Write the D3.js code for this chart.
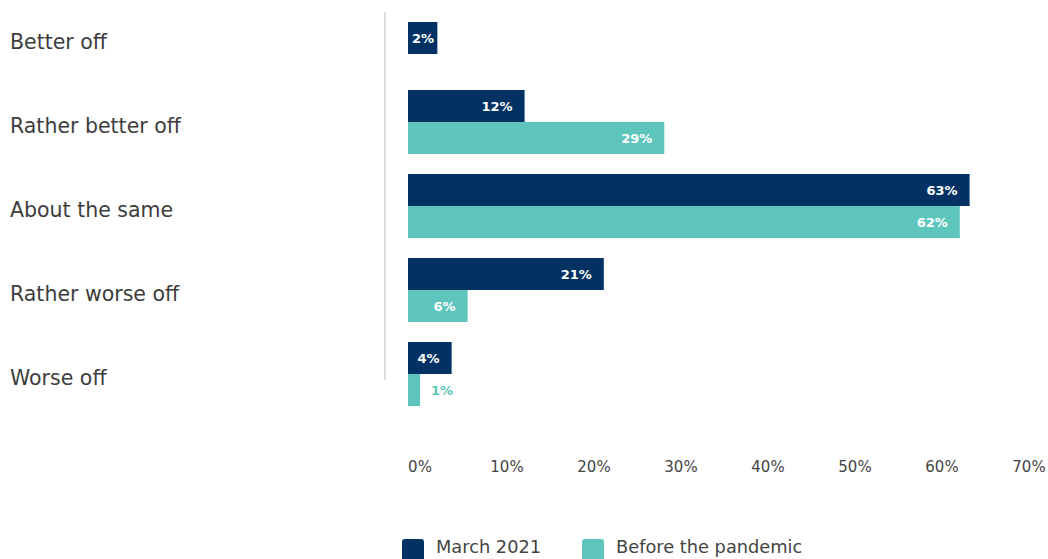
<!DOCTYPE html>
<html>
<head>
<meta charset="utf-8">
<script src="https://cdn.jsdelivr.net/npm/d3@7"></script>
<style>
  body { margin: 0; background: #fff; }
  text { font-family: "DejaVu Sans", "Open Sans", sans-serif; }
</style>
</head>
<body>
<div id="graph"></div>
<script>
// categories and series
var categories = ["Better off", "Rather better off", "About the same", "Rather worse off", "Worse off"];
var seriesNames = ["March 2021", "Before the pandemic"];
// bar lengths
var march2021 = [3.3, 13.1, 63.1, 22.0, 4.9];
var beforePandemic = [null, 28.8, 62.0, 6.7, 1.35];
// printed value labels
var marchLabels = ["2%", "12%", "63%", "21%", "4%"];
var beforeLabels = [null, "29%", "62%", "6%", "1%"];
var tickValues = [0, 10, 20, 30, 40, 50, 60, 70];

var colors = ["#013263", "#5dc5bc"];

var width = 1048, height = 559;

var svg = d3.select('#graph')
  .append('svg')
  .attr('width', width)
  .attr('height', height);

// scales
var x = d3.scaleLinear().domain([0, 70]).range([408, 1031]);
var xTicks = d3.scaleLinear().domain([0, 70]).range([420, 1029]);
var y = d3.scaleBand().domain(categories).range([-4, 416]).paddingInner(0);
var barH = 32;

// vertical baseline
svg.append('line')
  .attr('x1', 385).attr('x2', 385)
  .attr('y1', 12).attr('y2', 380)
  .attr('stroke', '#dcdcdc')
  .attr('stroke-width', 2);

// category labels
svg.append('g').selectAll('text')
  .data(categories)
  .enter().append('text')
  .attr('x', 10)
  .attr('y', d => y(d) + y.bandwidth() / 2 + 5)
  .attr('dominant-baseline', 'middle')
  .attr('font-size', '20.5px')
  .attr('fill', '#3d3d3d')
  .text(d => d);

// bar rows
var rows = categories.map(function(c, i) {
  var vals = [march2021[i], beforePandemic[i]];
  var labs = [marchLabels[i], beforeLabels[i]];
  var present = vals.map((v, k) => ({k: k, v: v, lab: labs[k]})).filter(d => d.v != null);
  var cy = y(c) + y.bandwidth() / 2;
  var top = cy - present.length * barH / 2;
  return present.map((d, j) => ({cat: c, k: d.k, v: d.v, lab: d.lab, y0: top + j * barH}));
});
var bars = rows.flat();

var g = svg.append('g').attr('id', 'bars');
g.selectAll('rect')
  .data(bars)
  .enter().append('rect')
  .attr('x', x(0))
  .attr('y', d => d.y0)
  .attr('width', d => x(d.v) - x(0))
  .attr('height', barH)
  .attr('fill', d => colors[d.k]);

// value labels
g.selectAll('text')
  .data(bars)
  .enter().append('text')
  .attr('y', d => d.y0 + barH / 2 + 1)
  .attr('dominant-baseline', 'middle')
  .attr('font-size', '13px')
  .attr('font-weight', 700)
  .text(d => d.lab)
  .each(function(d) {
    var t = d3.select(this);
    var w = this.getComputedTextLength();
    var bw = x(d.v) - x(0);
    if (bw < w + 6) {
      t.attr('x', x(d.v) + 11).attr('text-anchor', 'start').attr('fill', colors[d.k]);
    } else {
      t.attr('x', Math.max(x(d.v) - 12, x(0) + w + 4)).attr('text-anchor', 'end').attr('fill', '#fff');
    }
  });

// x axis tick labels
svg.append('g').selectAll('text')
  .data(tickValues)
  .enter().append('text')
  .attr('x', d => xTicks(d))
  .attr('y', 467)
  .attr('text-anchor', 'middle')
  .attr('dominant-baseline', 'middle')
  .attr('font-size', '15px')
  .attr('fill', '#444')
  .text(d => d + '%');

// legend
var legendX = [402, 582];
var legend = svg.append('g').selectAll('g')
  .data(seriesNames)
  .enter().append('g')
  .attr('transform', (d, i) => `translate(${legendX[i]},539)`);
legend.append('rect')
  .attr('width', 22).attr('height', 24)
  .attr('rx', 3)
  .attr('fill', (d, i) => colors[i]);
legend.append('text')
  .attr('x', 34)
  .attr('y', 9)
  .attr('dominant-baseline', 'middle')
  .attr('font-size', '17.8px')
  .attr('fill', '#444')
  .text(d => d);
</script>
</body>
</html>
